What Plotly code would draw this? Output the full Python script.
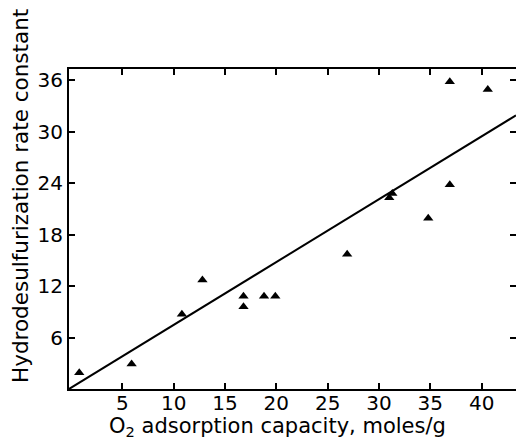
import plotly.graph_objects as go

# Data
o2_capacity = [0.8, 5.9, 10.8, 12.8, 16.8, 16.8, 18.8, 19.9, 26.9, 31.0, 31.3, 34.8, 36.9, 36.9, 40.6]
hds_rate = [1.9, 2.9, 8.7, 12.7, 10.8, 9.6, 10.8, 10.8, 15.7, 22.3, 22.8, 19.9, 23.8, 35.8, 34.9]
fit_x = [-0.2, 43.35]
fit_y = [0.0, 31.9]

x_ticks = [5, 10, 15, 20, 25, 30, 35, 40]
y_ticks = [6, 12, 18, 24, 30, 36]

FONT = "DejaVu Sans"

fig = go.Figure()
fig.add_trace(go.Scatter(x=fit_x, y=fit_y, mode="lines",
                         line=dict(color="black", width=2), showlegend=False,
                         hoverinfo="skip"))
fig.add_trace(go.Scatter(x=o2_capacity, y=hds_rate, mode="markers",
                         marker=dict(symbol="triangle-up", size=9, color="black"),
                         showlegend=False))
# invisible trace to host the right-hand tick axis
fig.add_trace(go.Scatter(x=[None], y=[None], yaxis="y2", showlegend=False))

fig.update_layout(
    width=516, height=441,
    margin=dict(l=69, r=0, t=69, b=52),
    paper_bgcolor="white", plot_bgcolor="white",
    font=dict(family=FONT, size=20, color="black"),
    xaxis=dict(range=[-0.2, 43.35], tickvals=x_ticks, ticktext=[str(v) for v in x_ticks],
               ticks="inside", ticklen=6, tickwidth=1.5, tickcolor="black",
               showline=True, linecolor="black", linewidth=2, mirror="ticks",
               showgrid=False, zeroline=False, ticklabelstandoff=-5,
               tickfont=dict(family=FONT, size=20)),
    yaxis=dict(range=[0, 37.3], tickvals=y_ticks, ticktext=[str(v) for v in y_ticks],
               ticks="inside", ticklen=6, tickwidth=1.5, tickcolor="black",
               showline=True, linecolor="black", linewidth=2, mirror=False,
               showgrid=False, zeroline=False,
               tickfont=dict(family=FONT, size=20)),
    yaxis2=dict(overlaying="y", side="right", matches="y", tickvals=y_ticks,
                showticklabels=False, ticks="inside", ticklen=6, tickwidth=1.5,
                tickcolor="black", showline=False, showgrid=False, zeroline=False),
    annotations=[
        dict(text="O<sub>2</sub> adsorption capacity, moles/g", xref="paper", yref="paper",
             x=(277 - 69) / 447, y=-(427 - 389) / 320, xanchor="center", yanchor="middle",
             showarrow=False, font=dict(family=FONT, size=21)),
        dict(text="Hydrodesulfurization rate constant", xref="paper", yref="paper",
             x=-(69 - 20) / 447, y=(389 - 196) / 320, xanchor="center", yanchor="middle",
             textangle=-90, showarrow=False, font=dict(family=FONT, size=21.5)),
    ],
)

fig.write_html("out.html")
